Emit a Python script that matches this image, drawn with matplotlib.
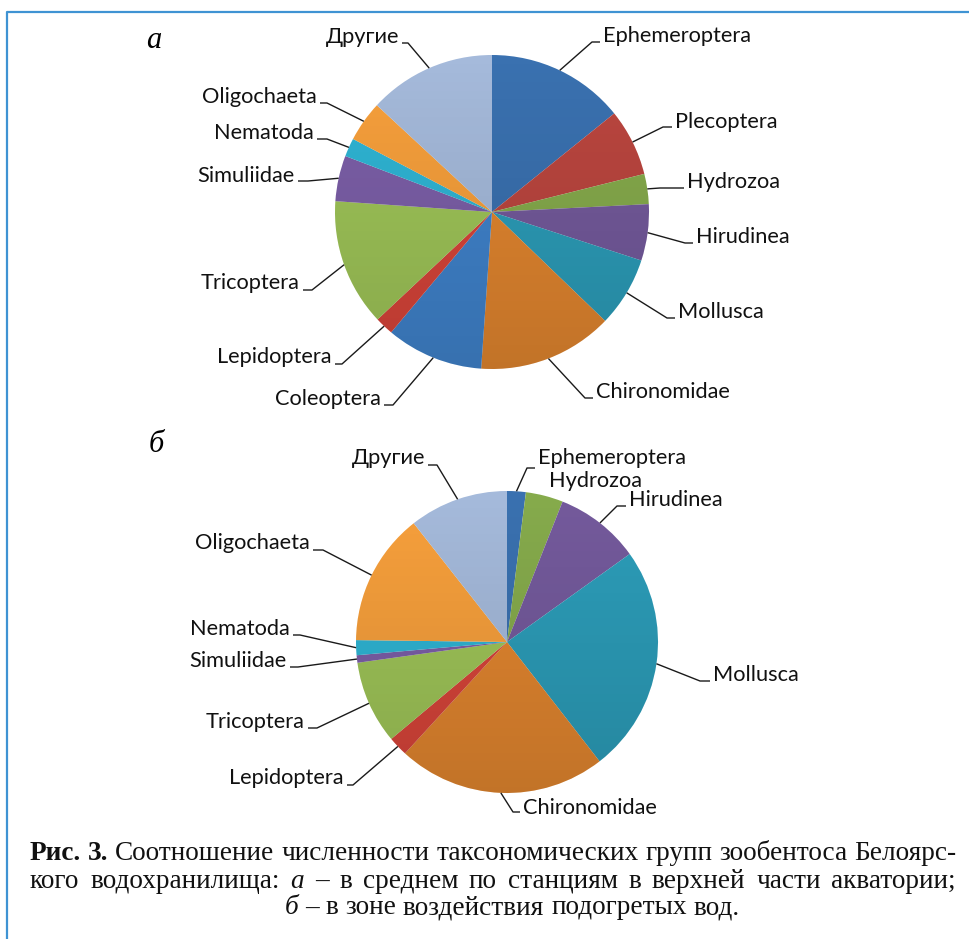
import matplotlib

matplotlib.use("Agg")
import matplotlib.pyplot as plt
import numpy as np
from matplotlib.patches import Circle

W, H = 970, 939

# share of taxonomic groups in zoobenthos abundance, %
taxa_a = ["Ephemeroptera", "Plecoptera", "Hydrozoa", "Hirudinea", "Mollusca",
          "Chironomidae", "Coleoptera", "Lepidoptera", "Tricoptera",
          "Simuliidae", "Nematoda", "Oligochaeta", "Другие"]
share_a = [14.2, 6.9, 3.1, 5.8, 7.2, 13.9, 10.0, 1.9, 13.1, 4.7, 1.9, 4.2, 13.1]

taxa_b = ["Ephemeroptera", "Hydrozoa", "Hirudinea", "Mollusca", "Chironomidae",
          "Lepidoptera", "Tricoptera", "Simuliidae", "Nematoda", "Oligochaeta",
          "Другие"]
share_b = [2.0, 4.0, 9.1, 24.4, 22.3, 2.1, 8.9, 0.8, 1.6, 14.2, 10.6]

panel_letters = ["а", "б"]

# ^ marks bold words, _ marks italic words
caption = [
    "^Рис. ^3. Соотношение численности таксономических групп зообентоса Белоярс-",
    "кого водохранилища: _а – в среднем по станциям в верхней части акватории;",
    "_б – в зоне воздействия подогретых вод.",
]

colors = {
    "Ephemeroptera": "#3a71b0",
    "Plecoptera": "#bb463f",
    "Hydrozoa": "#86ab4c",
    "Hirudinea": "#745a9c",
    "Mollusca": "#2c9db9",
    "Chironomidae": "#e2862f",
    "Coleoptera": "#4083cc",
    "Lepidoptera": "#d8453a",
    "Tricoptera": "#9fc558",
    "Simuliidae": "#7c5fa8",
    "Nematoda": "#2fb5d5",
    "Oligochaeta": "#f7a03c",
    "Другие": "#a5badb",
}

# leader layout in pixels from the top-left:
# elbow x, elbow y, stub end x, text centre y, draw line
layout_a = {
    "Ephemeroptera": (592, 42, 600, 36, True),
    "Plecoptera": (663, 127, 672, 122, True),
    "Hydrozoa": (660, 188, 684, 182, True),
    "Hirudinea": (685, 243, 693, 237, True),
    "Mollusca": (667, 318, 675, 312, True),
    "Chironomidae": (585, 398, 593, 392, True),
    "Coleoptera": (393, 405, 384, 399, True),
    "Lepidoptera": (342, 364, 335, 357, True),
    "Tricoptera": (312, 290, 303, 283, True),
    "Simuliidae": (308, 181, 298, 176, True),
    "Nematoda": (327, 139, 317, 133, True),
    "Oligochaeta": (327, 103, 320, 97, True),
    "Другие": (408, 43, 402, 37, True),
}
layout_b = {
    "Ephemeroptera": (527, 468, 535, 458, True),
    "Hydrozoa": (540, 486, 546, 481, False),
    "Hirudinea": (617, 506, 626, 500, True),
    "Mollusca": (700, 681, 710, 675, True),
    "Chironomidae": (513, 812, 520, 808, True),
    "Lepidoptera": (353, 785, 347, 778, True),
    "Tricoptera": (317, 728, 308, 722, True),
    "Simuliidae": (298, 667, 290, 661, True),
    "Nematoda": (300, 635, 293, 629, True),
    "Oligochaeta": (323, 550, 313, 543, True),
    "Другие": (437, 465, 428, 458, True),
}

label_font = ["Lato", "Noto Sans", "DejaVu Sans"]
serif_font = ["Liberation Serif", "DejaVu Serif"]

fig = plt.figure(figsize=(W / 100, H / 100), dpi=100)
ax = fig.add_axes([0, 0, 1, 1])


def draw_pie(taxa, share, cx, cy, r, layout):
    cy = H - cy
    wedges, _ = ax.pie(
        share,
        colors=[colors[t] for t in taxa],
        startangle=90,
        counterclock=False,
        center=(cx, cy),
        radius=r,
        wedgeprops={"linewidth": 0, "antialiased": True},
    )
    # soft top-to-bottom shading like the office chart style
    shade = np.zeros((256, 1, 4))
    shade[:, 0, 3] = np.linspace(0.0, 0.14, 256)
    im = ax.imshow(shade, extent=[cx - r, cx + r, cy - r, cy + r],
                   origin="upper", interpolation="bilinear", zorder=3)
    im.set_clip_path(Circle((cx, cy), r, transform=ax.transData))

    for taxon, wedge in zip(taxa, wedges):
        ex, ey, sx, ty, with_line = layout[taxon]
        mid = np.deg2rad((wedge.theta1 + wedge.theta2) / 2)
        px, py = cx + r * np.cos(mid), cy + r * np.sin(mid)
        if with_line:
            ax.plot([px, ex, sx], [py, H - ey, H - ey], color="#1a1a1a",
                    lw=1.0, zorder=4, solid_capstyle="butt")
        right = sx >= ex
        ax.text(sx + 3 if right else sx - 3, H - ty, taxon,
                ha="left" if right else "right", va="center",
                fontsize=15.7, family=label_font, color="#111111", zorder=5)


draw_pie(taxa_a, share_a, 492, 212, 157, layout_a)
draw_pie(taxa_b, share_b, 507, 642, 151, layout_b)

ax.text(154, H - 40, panel_letters[0], fontsize=22, style="italic",
        family=serif_font, ha="center", va="center")
ax.text(156, H - 445, panel_letters[1], fontsize=22, style="italic",
        family=serif_font, ha="center", va="center")

# frame around the figure (left and top edges only are in view)
ax.plot([7, 7, W], [0, H - 11.5, H - 11.5], color="#3f93d3", lw=1.6,
        solid_capstyle="butt", zorder=6)

ax.set_xlim(0, W)
ax.set_ylim(0, H)
ax.set_aspect("auto")
ax.axis("off")

renderer = fig.canvas.get_renderer()


def word_props(word):
    if word.startswith("^"):
        return word[1:], {"weight": "bold"}
    if word.startswith("_"):
        return word[1:], {"style": "italic"}
    return word, {}


def make_words(line, size):
    items = []
    for raw in line.split(" "):
        text, props = word_props(raw)
        t = ax.text(0, 0, text, fontsize=size, family=serif_font,
                    ha="left", va="center", color="#111111", **props)
        width = t.get_window_extent(renderer).width
        items.append((t, width))
    return items


def natural_width(items, size):
    space = 0.25 * size * 100 / 72
    return sum(w for _, w in items) + space * (len(items) - 1)


# size the caption so the first line fills the text column
x_left, x_right = 30, 956
size = 16.0
probe = make_words(caption[0], size)
fit = (x_right - x_left) / natural_width(probe, size)
for t, _ in probe:
    t.remove()
size *= fit

caption_y = [854, 881, 908]
for i, line in enumerate(caption):
    items = make_words(line, size)
    y = H - caption_y[i]
    if i < len(caption) - 1:
        gap = (x_right - x_left - sum(w for _, w in items)) / (len(items) - 1)
        x = x_left
    else:
        gap = 0.25 * size * 100 / 72
        x = 512 - natural_width(items, size) / 2
    for t, w in items:
        t.set_position((x, y))
        x += w + gap

fig.savefig("out.png", dpi=100)
